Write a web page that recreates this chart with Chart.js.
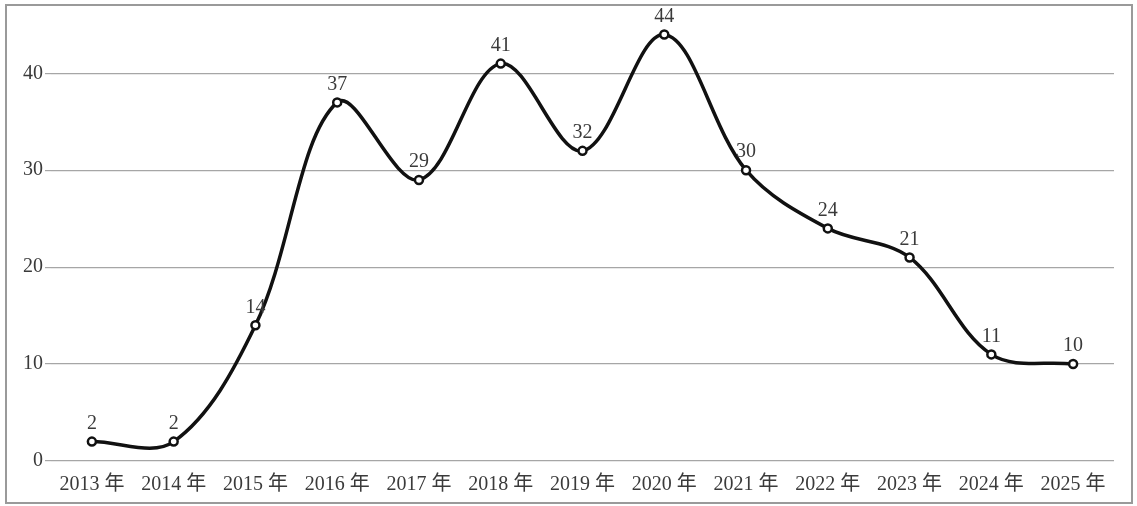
<!DOCTYPE html>
<html>
<head>
<meta charset="utf-8">
<script src="https://cdn.jsdelivr.net/npm/chart.js@4/dist/chart.umd.min.js"></script>
<style>
  html, body { margin: 0; padding: 0; background: #fff; }
  #frame {
    position: absolute; left: 5px; top: 4px;
    width: 1124px; height: 496px;
    border: 2px solid #9a9a9a;
  }
  #wrap { position: absolute; left: 0; top: 0; width: 1124px; height: 499px; }
</style>
</head>
<body>
<div id="frame"><div id="wrap"><canvas id="myChart"></canvas></div></div>
<script>
const years = ['2013 年', '2014 年', '2015 年', '2016 年', '2017 年', '2018 年', '2019 年',
               '2020 年', '2021 年', '2022 年', '2023 年', '2024 年', '2025 年'];
const counts = [2, 2, 14, 37, 29, 41, 32, 44, 30, 24, 21, 11, 10];
const yTicks = [0, 10, 20, 30, 40];

const serif = "'Liberation Serif', 'DejaVu Serif', 'Noto Sans CJK SC', serif";

// draws the value above each point
const valueLabels = {
    id: 'valueLabels',
    afterDatasetsDraw(chart) {
        const c = chart.ctx;
        const meta = chart.getDatasetMeta(0);
        c.save();
        c.font = '20px ' + serif;
        c.fillStyle = '#3a3a3a';
        c.textAlign = 'center';
        c.textBaseline = 'bottom';
        meta.data.forEach((pt, i) => {
            c.fillText(String(counts[i]), pt.x, pt.y - 8);
        });
        c.restore();
    }
};

const ctx = document.getElementById('myChart').getContext('2d');

new Chart(ctx, {
    type: 'line',
    data: {
        labels: years,
        datasets: [{
            data: counts,
            borderColor: '#111',
            borderWidth: 3.5,
            tension: 0.35,
            pointRadius: 4,
            pointBorderWidth: 2.5,
            pointBackgroundColor: '#fff',
            pointBorderColor: '#111',
            fill: false
        }]
    },
    options: {
        responsive: true,
        maintainAspectRatio: false,
        animation: false,
        layout: { padding: { left: 14, right: 17, top: 4, bottom: -4 } },
        scales: {
            x: {
                offset: true,
                grid: { display: false, drawTicks: false },
                border: { display: false },
                ticks: { font: { family: serif, size: 20 }, color: '#3a3a3a', padding: 12, maxRotation: 0, autoSkip: false }
            },
            y: {
                min: 0,
                max: 45.5,
                afterBuildTicks(axis) {
                    axis.ticks = yTicks.map(v => ({ value: v }));
                },
                grid: { color: '#a6a6a6', lineWidth: 1.2, tickLength: 6 },
                border: { display: false },
                ticks: { font: { family: serif, size: 20 }, color: '#3a3a3a', padding: 2 }
            }
        },
        plugins: {
            legend: { display: false },
            tooltip: { enabled: false }
        }
    },
    plugins: [valueLabels]
});
</script>
</body>
</html>
